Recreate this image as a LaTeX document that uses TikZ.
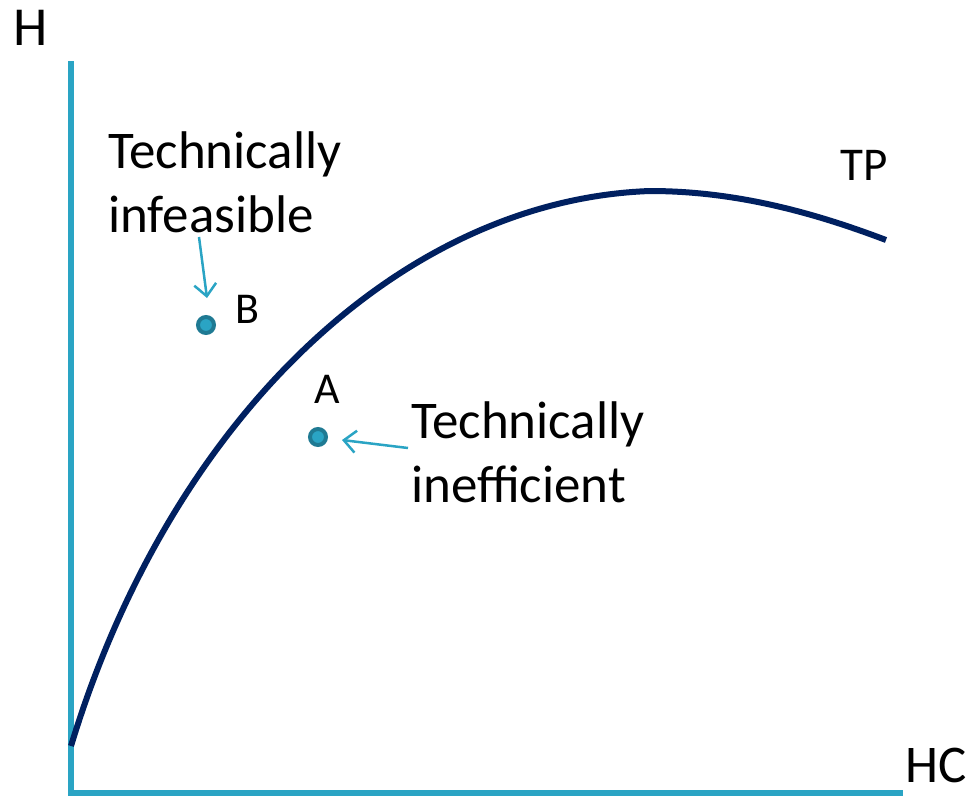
\documentclass[tikz,border=0pt]{standalone}
\usepackage{fontspec}
\setmainfont{Carlito}
\usetikzlibrary{arrows.meta}
\definecolor{axisblue}{HTML}{2AA4C4}
\definecolor{curvenavy}{HTML}{002060}
\definecolor{dotring}{HTML}{1F7A93}
\tikzset{
  axisline/.style={draw=axisblue,line width=6pt},
  curveline/.style={draw=curvenavy,line width=6pt},
  lbl/.style={text=black,inner sep=0pt,anchor=base west},
  big/.style={lbl,font=\fontsize{55}{66}\selectfont},
  mid/.style={lbl,font=\fontsize{53}{64}\selectfont,align=left},
  small/.style={lbl,font=\fontsize{44}{52}\selectfont},
  dotpt/.style={circle,draw=dotring,fill=axisblue,line width=4pt,minimum size=16pt,inner sep=0pt},
  pointer/.style={draw=axisblue,line width=2.5pt,-{Straight Barb[length=12pt,width=22pt,line width=2.5pt]}}
}
\begin{document}
\begin{tikzpicture}[x=1pt,y=-1pt]
\useasboundingbox (0,0) rectangle (978,796);
\coordinate (top) at (71,61);
\coordinate (orig) at (71,793);
\coordinate (right) at (903,793);
\draw[axisline] (top) -- (orig) -- (right);
\coordinate (c0) at (71,746);
\coordinate (cpk) at (650,191);
\coordinate (cend) at (886,240);
\draw[curveline] (c0) .. controls (170,420) and (400,200) .. (cpk)
  .. controls (740,191) and (820,215) .. (cend);
\node[big] (H) at (13,45) {H};
\node[big,font=\fontsize{53}{60}\selectfont] (HC) at (905,782) {HC};
\node[small,font=\fontsize{47}{52}\selectfont] (TP) at (840,180) {TP};
\node[dotpt] (B) at (206,325) {};
\node[dotpt] (A) at (318,437) {};
\node[small] (Blbl) at (235,323) {B};
\node[small] (Albl) at (314,403) {A};
\node[mid] (inf) at (108,232) {Technically\\infeasible};
\node[mid] (ineff) at (411,502) {Technically\\inefficient};
\coordinate (b1) at (199,237);
\coordinate (b2) at (207,298);
\coordinate (a1) at (408,448);
\coordinate (a2) at (342,440);
\draw[pointer] (b1) -- (b2);
\draw[pointer] (a1) -- (a2);
\end{tikzpicture}
\end{document}
